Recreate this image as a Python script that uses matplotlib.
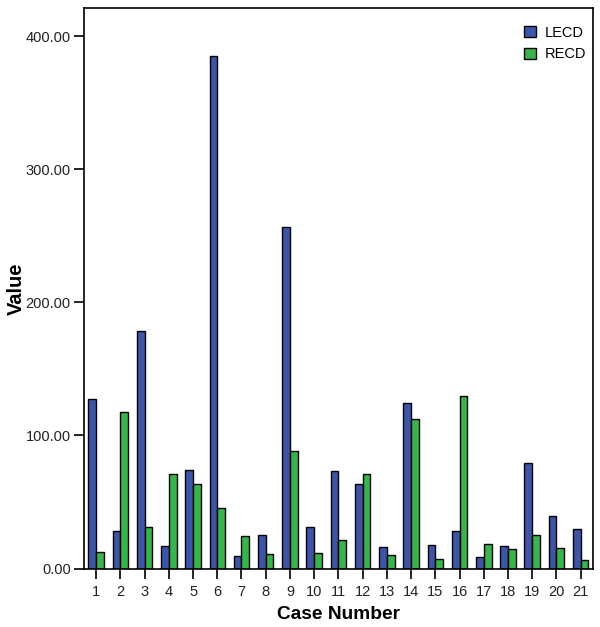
import matplotlib
matplotlib.use("Agg")
import matplotlib.pyplot as plt
import numpy as np

plt.rcParams['font.family'] = ['Liberation Sans', 'DejaVu Sans']

cases = [str(i) for i in range(1, 22)]
lecd = [127.5, 28.2, 178.5, 17.1, 73.7, 385.0, 9.6, 25.2, 256.9, 31.2, 73.2,
        63.7, 15.9, 124.2, 17.6, 28.2, 8.9, 17.1, 79.4, 39.6, 29.7]
recd = [12.6, 117.3, 31.4, 71.2, 63.7, 45.6, 24.6, 10.6, 88.2, 11.4, 21.2,
        71.2, 9.9, 112.2, 6.9, 129.5, 18.2, 14.6, 25.2, 15.4, 6.2]
yticks = [0, 100, 200, 300, 400]

fig = plt.figure(figsize=(6, 6.27), dpi=100)
ax = fig.add_axes([0.14, 0.0933, 0.848, 0.8935])

x = np.arange(1, len(cases) + 1)
w = 0.32
ax.bar(x - w / 2, lecd, width=w, color='#3D55A8', edgecolor='black', linewidth=1.0, label='LECD')
ax.bar(x + w / 2, recd, width=w, color='#35B54A', edgecolor='black', linewidth=1.0, label='RECD')

ax.set_xlim(0.5, 21.5)
ax.set_ylim(0, 421)
ax.set_xticks(x)
ax.set_xticklabels(cases, fontsize=10.5)
ax.set_yticks(yticks)
ax.set_yticklabels([f"{v:.2f}" for v in yticks], fontsize=10.5)
ax.tick_params(axis='both', direction='out', length=7, width=1.2, color='black',
               labelcolor='#222222')
ax.tick_params(axis='x', pad=5)
ax.tick_params(axis='y', pad=2.5)
for s in ax.spines.values():
    s.set_linewidth(1.2)

ax.set_xlabel('Case Number', fontsize=13.8, fontweight='bold', labelpad=5)
ax.set_ylabel('Value', fontsize=14.5, fontweight='bold', labelpad=0)

leg = ax.legend(loc='upper right', frameon=False, fontsize=10.5, handlelength=0.8,
                handleheight=0.8, handletextpad=0.6, labelspacing=0.5,
                bbox_to_anchor=(1.012, 0.992))

fig.savefig('out.png', dpi=100)
